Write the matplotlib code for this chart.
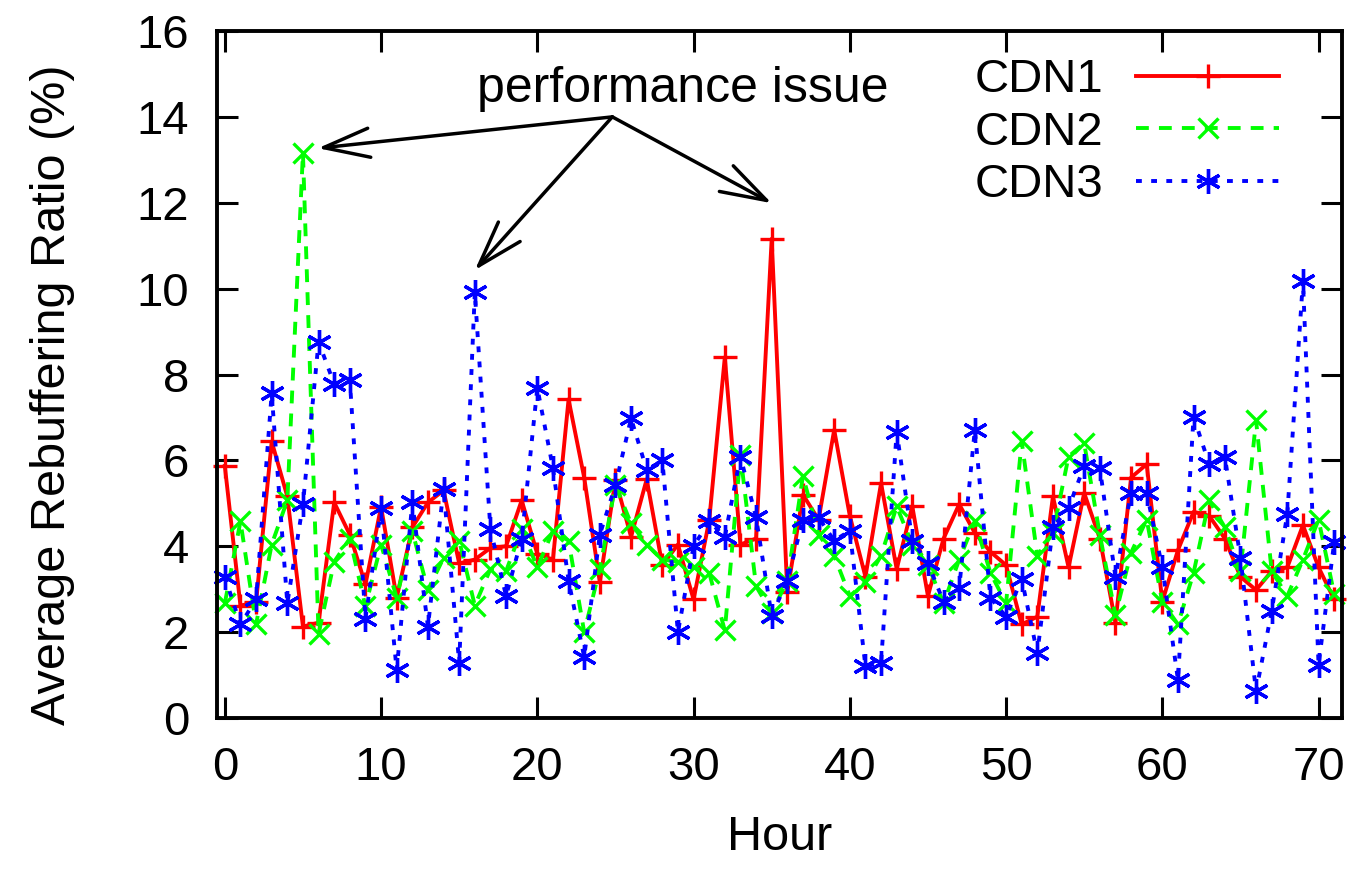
import matplotlib
matplotlib.use("Agg")
import matplotlib.pyplot as plt

plt.rcParams['font.family'] = ['Liberation Sans', 'DejaVu Sans']

hours = list(range(72))

cdn1 = [5.87, 2.62, 2.69, 6.44, 5.16, 2.13, 2.22, 5.02, 4.27, 3.11,
        4.92, 2.8, 4.44, 5.02, 5.3, 3.6, 3.69, 3.96, 4.0, 5.07,
        3.82, 3.69, 7.42, 5.6, 3.16, 5.55, 4.22, 5.56, 3.56, 4.04,
        2.76, 4.6, 8.4, 4.04, 4.18, 11.16, 2.93, 5.2, 4.62, 6.71,
        4.71, 3.29, 5.47, 3.47, 4.93, 2.84, 4.18, 4.98, 4.31, 3.87,
        3.56, 2.18, 2.36, 5.16, 3.51, 5.24, 4.18, 2.22, 5.6, 5.91,
        2.71, 3.91, 4.8, 4.71, 4.18, 3.29, 2.98, 3.42, 3.51, 4.49,
        3.51, 2.76]

cdn2 = [2.67, 4.58, 2.18, 4.04, 5.07, 13.16, 1.96, 3.64, 4.18, 2.6,
        4.04, 2.8, 4.35, 2.98, 3.73, 4.13, 2.62, 3.47, 3.42, 4.4,
        3.51, 4.36, 4.13, 2.0, 3.47, 5.42, 4.53, 4.04, 3.69, 3.64,
        3.51, 3.38, 2.04, 6.13, 3.07, 2.45, 3.2, 5.64, 4.27, 3.78,
        2.84, 3.16, 3.78, 4.93, 4.04, 3.56, 2.67, 3.69, 4.58, 3.38,
        2.67, 6.44, 3.78, 4.31, 6.09, 6.4, 4.27, 2.4, 3.85, 4.62,
        2.7, 2.18, 3.38, 5.07, 4.44, 3.42, 6.93, 3.42, 2.84, 3.69,
        4.62, 2.89]

cdn3 = [3.29, 2.18, 2.76, 7.56, 2.67, 4.98, 8.76, 7.78, 7.87, 2.31,
        4.89, 1.11, 5.02, 2.13, 5.33, 1.29, 9.91, 4.4, 2.84, 4.18,
        7.69, 5.82, 3.2, 1.42, 4.27, 5.42, 6.98, 5.78, 6.0, 2.0,
        4.0, 4.58, 4.22, 6.09, 4.67, 2.38, 3.2, 4.62, 4.67, 4.13,
        4.36, 1.2, 1.29, 6.67, 4.13, 3.6, 2.71, 3.02, 6.71, 2.8,
        2.36, 3.24, 1.51, 4.44, 4.89, 5.87, 5.82, 3.29, 5.24, 5.24,
        3.51, 0.89, 7.02, 5.91, 6.09, 3.73, 0.62, 2.49, 4.76, 10.18,
        1.24, 4.09]

series_labels = ['CDN1', 'CDN2', 'CDN3']
x_ticks = list(range(0, 71, 10))
y_ticks = list(range(0, 17, 2))

fig = plt.figure(figsize=(13.56, 8.69), dpi=100)
ax = fig.add_axes([217/1356, 1-718/869, (1342-217)/1356, (718-31)/869])

lw = 2.8
ax.plot(hours, cdn1, color='#ff0000', linestyle='-', linewidth=lw,
        marker='+', markersize=17, markeredgewidth=2.4, label=series_labels[0], clip_on=False)
ax.plot(hours, cdn2, color='#00ff00', linestyle=(0, (3.3, 2.6)), linewidth=lw,
        marker='x', markersize=14, markeredgewidth=2.4, label=series_labels[1], clip_on=False)
ax.plot(hours, cdn3, color='#0000ff', linestyle=(0, (1.5, 2.4)), linewidth=lw,
        marker=(6, 2, 0), markersize=18, markeredgewidth=2.4, label=series_labels[2], clip_on=False)

ax.set_xlim(-0.5, 71.5)
ax.set_ylim(0, 16)
ax.set_xticks(x_ticks)
ax.set_yticks(y_ticks)
ax.tick_params(direction='in', length=15, width=2.2, labelsize=34, top=True, right=True, pad=20)
for s in ax.spines.values():
    s.set_linewidth(2.8)

ax.set_xlabel('Hour', fontsize=35, labelpad=18)
ax.set_ylabel('Average Rebuffering Ratio (%)', fontsize=35)
ax.yaxis.set_label_coords(-0.126, 0.47)

ax.text(29.3, 14.65, 'performance issue', fontsize=36, ha='center', va='center')
start = (24.8, 14.0)
targets = [(5.96, 13.27), (16.0, 10.43), (35.0, 11.99)]
for t in targets:
    ax.annotate('', xy=t, xytext=start,
                arrowprops=dict(arrowstyle='->,head_length=1.1,head_width=0.35',
                                color='black', lw=2.5, mutation_scale=30,
                                shrinkA=0, shrinkB=0))

leg = ax.legend(loc='upper right', bbox_to_anchor=(0.961, 0.988), frameon=False,
                markerfirst=False, fontsize=34, handlelength=3.03,
                labelspacing=0.18, handletextpad=0.7, borderaxespad=0)

fig.savefig('out.png', dpi=100)
